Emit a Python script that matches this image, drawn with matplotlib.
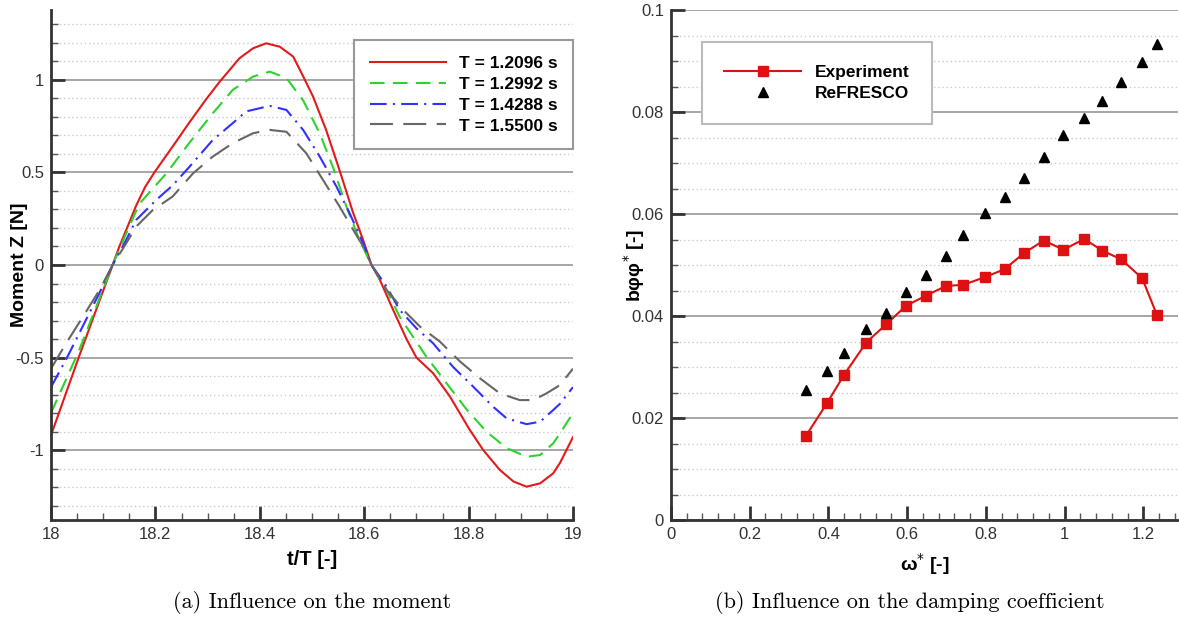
import matplotlib
matplotlib.use("Agg")
import matplotlib.pyplot as plt
from matplotlib.ticker import MultipleLocator, FormatStrFormatter

# (a) moment Z versus t/T
t_a = [18.0, 18.053, 18.118, 18.131, 18.150, 18.163, 18.180, 18.198, 18.233, 18.265,
       18.297, 18.323, 18.361, 18.387, 18.412, 18.438, 18.464, 18.483, 18.502, 18.527,
       18.553, 18.579, 18.598, 18.614, 18.630, 18.655, 18.681, 18.700, 18.732, 18.764,
       18.802, 18.828, 18.860, 18.886, 18.911, 18.937, 18.962, 18.975, 19.0]
m_a = [-0.92, -0.50, 0.0, 0.10, 0.23, 0.32, 0.42, 0.50, 0.64, 0.77,
       0.895, 0.99, 1.117, 1.171, 1.198, 1.18, 1.126, 1.02, 0.91, 0.73,
       0.51, 0.28, 0.135, 0.0, -0.08, -0.24, -0.40, -0.50, -0.585, -0.71,
       -0.89, -1.0, -1.108, -1.17, -1.198, -1.18, -1.126, -1.07, -0.93]

t_b = [18.0, 18.054, 18.118, 18.144, 18.169, 18.221, 18.265, 18.310, 18.348, 18.387,
       18.419, 18.451, 18.483, 18.515, 18.540, 18.566, 18.591, 18.614, 18.643, 18.668,
       18.694, 18.719, 18.758, 18.796, 18.834, 18.873, 18.911, 18.937, 18.962, 18.975, 19.0]
m_b = [-0.80, -0.46, 0.0, 0.17, 0.33, 0.495, 0.66, 0.82, 0.946, 1.018,
       1.045, 1.01, 0.89, 0.71, 0.53, 0.315, 0.135, 0.0, -0.135, -0.28,
       -0.39, -0.495, -0.64, -0.78, -0.90, -0.99, -1.036, -1.027, -0.964, -0.91, -0.80]

t_c = [18.0, 18.029, 18.061, 18.093, 18.118, 18.144, 18.163, 18.201, 18.233, 18.265,
       18.310, 18.348, 18.374, 18.419, 18.451, 18.483, 18.515, 18.547, 18.572, 18.598,
       18.614, 18.643, 18.668, 18.700, 18.732, 18.770, 18.809, 18.847, 18.873, 18.911,
       18.937, 18.962, 18.975, 19.0]
m_c = [-0.66, -0.51, -0.33, -0.15, 0.0, 0.135, 0.243, 0.35, 0.43, 0.53,
       0.676, 0.766, 0.83, 0.86, 0.838, 0.73, 0.585, 0.423, 0.28, 0.117,
       0.0, -0.117, -0.243, -0.342, -0.423, -0.55, -0.658, -0.766, -0.829, -0.86,
       -0.847, -0.784, -0.75, -0.66]

t_d = [18.0, 18.029, 18.061, 18.093, 18.118, 18.144, 18.163, 18.195, 18.233, 18.272,
       18.310, 18.348, 18.387, 18.419, 18.451, 18.489, 18.521, 18.553, 18.579, 18.598,
       18.614, 18.643, 18.675, 18.707, 18.745, 18.783, 18.822, 18.860, 18.898, 18.924,
       18.949, 18.975, 19.0]
m_d = [-0.56, -0.423, -0.28, -0.135, 0.0, 0.117, 0.207, 0.297, 0.37, 0.495,
       0.586, 0.658, 0.712, 0.73, 0.72, 0.604, 0.46, 0.315, 0.19, 0.10,
       0.0, -0.135, -0.243, -0.333, -0.414, -0.52, -0.613, -0.694, -0.73, -0.73,
       -0.694, -0.649, -0.56]

labels_a = ["T = 1.2096 s", "T = 1.2992 s", "T = 1.4288 s", "T = 1.5500 s"]

# (b) damping coefficient versus omega*
w_exp = [0.342, 0.397, 0.44, 0.496, 0.547, 0.597, 0.648, 0.699, 0.742, 0.797,
         0.848, 0.896, 0.947, 0.997, 1.05, 1.096, 1.144, 1.197, 1.235]
b_exp = [0.0164, 0.0230, 0.0285, 0.0348, 0.0384, 0.0420, 0.0440, 0.0459, 0.0461, 0.0476,
         0.0492, 0.0523, 0.0548, 0.0530, 0.0551, 0.0528, 0.0511, 0.0474, 0.0401]
b_ref = [0.0255, 0.0293, 0.0328, 0.0375, 0.0406, 0.0447, 0.0481, 0.0518, 0.0558, 0.0601,
         0.0633, 0.0671, 0.0712, 0.0755, 0.0788, 0.0822, 0.0859, 0.0898, 0.0933]

plt.rcParams['font.family'] = ['Liberation Sans', 'DejaVu Sans']

W, H = 1179, 623
fig = plt.figure(figsize=(W / 100, H / 100), dpi=100)
ax1 = fig.add_axes([51 / W, 103 / H, 522 / W, 510 / H])
ax2 = fig.add_axes([671 / W, 103 / H, 507 / W, 510 / H])


def style(ax):
    for s in ['top', 'right']:
        ax.spines[s].set_visible(False)
    for s in ['left', 'bottom']:
        ax.spines[s].set_linewidth(2)
        ax.spines[s].set_color('#333333')
    ax.set_axisbelow(True)
    ax.yaxis.grid(True, which='major', color='#a6a6a6', lw=1.4)
    ax.yaxis.grid(True, which='minor', color='#cccccc', lw=1, ls=(0, (1, 2)))
    ax.tick_params(which='major', direction='in', length=10, width=2,
                   color='#333333', labelsize=12, labelcolor='#333333', pad=5)
    ax.tick_params(which='minor', direction='in', length=5, width=1, color='#555555')


# ---- (a)
ax1.plot(t_a, m_a, color='#e31a1c', lw=1.5, label=labels_a[0])
ax1.plot(t_b, m_b, color='#2ed12e', lw=1.5, dashes=(7, 4), label=labels_a[1])
ax1.plot(t_c, m_c, color='#3030ff', lw=1.5, dashes=(8, 3, 1, 3), label=labels_a[2])
ax1.plot(t_d, m_d, color='#666666', lw=1.5, dashes=(11, 5), label=labels_a[3])
ax1.set_xlim(18, 19)
ax1.set_ylim(-1.378, 1.378)
ax1.xaxis.set_major_locator(MultipleLocator(0.2))
ax1.xaxis.set_minor_locator(MultipleLocator(0.05))
ax1.yaxis.set_major_locator(MultipleLocator(0.5))
ax1.yaxis.set_minor_locator(MultipleLocator(0.1))
ax1.xaxis.set_major_formatter(FormatStrFormatter('%g'))
ax1.yaxis.set_major_formatter(FormatStrFormatter('%g'))
style(ax1)
ax1.set_xlabel('t/T [-]', fontsize=14.5, fontweight='bold')
ax1.set_ylabel('Moment Z [N]', fontsize=14, fontweight='bold')
ax1.xaxis.set_label_coords(0.5, -0.077)
ax1.xaxis.label.set_va('center')
ax1.yaxis.set_label_coords(-0.06, 0.5)
ax1.yaxis.label.set_va('center')
leg1 = ax1.legend(loc='upper right', bbox_to_anchor=(1.0, 0.941), borderaxespad=0,
                  prop={'weight': 'bold', 'size': 12.5}, fancybox=False, framealpha=1,
                  edgecolor='#999999', handlelength=4.4, handletextpad=0.7,
                  labelspacing=0.33, borderpad=0.9)
leg1.get_frame().set_linewidth(1.5)

# ---- (b)
ax2.plot(w_exp, b_exp, color='#dd1111', lw=1.5, marker='s', ms=6.5, label='Experiment')
ax2.plot(w_exp, b_ref, ls='none', color='black', marker='^', ms=7, label='ReFRESCO')
ax2.set_xlim(0, 1.288)
ax2.set_ylim(0, 0.1)
ax2.xaxis.set_major_locator(MultipleLocator(0.2))
ax2.xaxis.set_minor_locator(MultipleLocator(0.04))
ax2.yaxis.set_major_locator(MultipleLocator(0.02))
ax2.yaxis.set_minor_locator(MultipleLocator(0.005))
ax2.xaxis.set_major_formatter(FormatStrFormatter('%g'))
ax2.yaxis.set_major_formatter(FormatStrFormatter('%g'))
style(ax2)
ax2.set_xlabel('ω$^{*}$ [-]', fontsize=14, fontweight='bold')
ax2.set_ylabel('bφφ$^{*}$ [-]', fontsize=14, fontweight='bold')
ax2.xaxis.set_label_coords(0.5, -0.086)
ax2.xaxis.label.set_va('center')
ax2.yaxis.set_label_coords(-0.073, 0.5)
ax2.yaxis.label.set_va('center')
leg2 = ax2.legend(loc='upper left', bbox_to_anchor=(0.061, 0.937), borderaxespad=0,
                  prop={'weight': 'bold', 'size': 12.5}, fancybox=False, framealpha=1,
                  edgecolor='#bbbbbb', handlelength=4.4, handletextpad=0.8,
                  labelspacing=0.36, borderpad=1.3)
leg2.get_frame().set_linewidth(1.5)

# captions
fig.text(312 / W, 1 - 603 / H, '(a) Influence on the moment', family='cmr10',
         fontsize=16, ha='center', va='center')
fig.text(910 / W, 1 - 603 / H, '(b) Influence on the damping coefficient', family='cmr10',
         fontsize=16, ha='center', va='center')

fig.savefig('out.png', dpi=100)
